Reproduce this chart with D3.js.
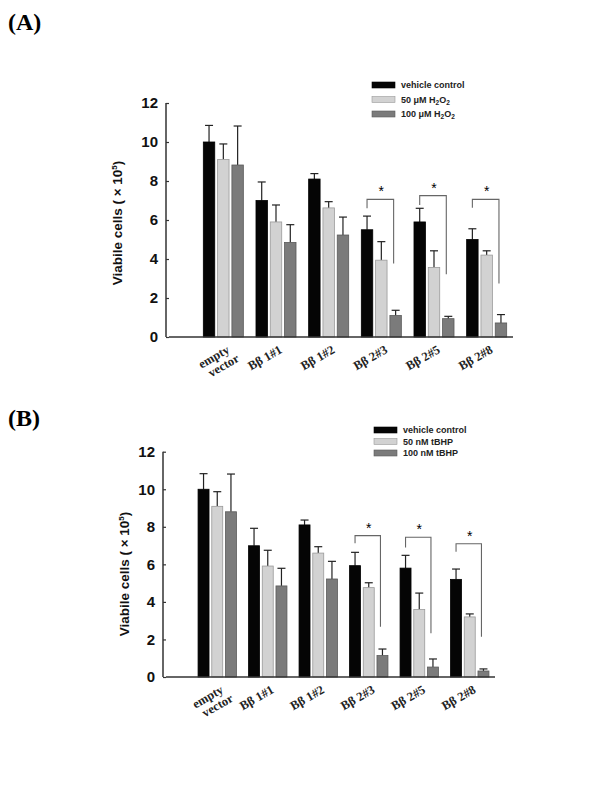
<!DOCTYPE html>
<html>
<head>
<meta charset="utf-8">
<script src="https://cdn.jsdelivr.net/npm/d3@7"></script>
<style>
  body { margin: 0; background: #fff; }
  svg { display: block; }
  .tick text { font-family: "Liberation Sans", Arial, sans-serif; font-weight: bold; }
</style>
</head>
<body>
<div id="chart"></div>
<script>
// --- data ---
const groups = ["empty vector", "Bβ 1#1", "Bβ 1#2", "Bβ 2#3", "Bβ 2#5", "Bβ 2#8"];
const series = ["vehicle", "mid", "high"];
const yTicks = [0, 2, 4, 6, 8, 10, 12];

// panel A : H2O2
const aVehicle = [10.0, 7.0, 8.1, 5.5, 5.9, 5.0];
const aVehicleErr = [10.85, 7.95, 8.38, 6.2, 6.6, 5.55];
const a50 = [9.1, 5.9, 6.62, 3.94, 3.57, 4.2];
const a50Err = [9.9, 6.77, 6.94, 4.89, 4.42, 4.42];
const a100 = [8.82, 4.85, 5.23, 1.1, 0.94, 0.72];
const a100Err = [10.82, 5.76, 6.15, 1.37, 1.06, 1.15];
// brackets: group index, top, left end, right end
const aBrackets = [[3, 7.06, 6.6, 3.77], [4, 7.25, 6.77, 3.22], [5, 7.06, 6.63, 2.74]];

// panel B : tBHP
const bVehicle = [10.0, 6.99, 8.1, 5.93, 5.8, 5.2];
const bVehicleErr = [10.83, 7.92, 8.36, 6.64, 6.48, 5.75];
const b50 = [9.09, 5.91, 6.6, 4.76, 3.59, 3.2];
const b50Err = [9.87, 6.75, 6.94, 5.02, 4.47, 3.36];
const b100 = [8.8, 4.85, 5.22, 1.14, 0.53, 0.32];
const b100Err = [10.81, 5.79, 6.16, 1.49, 0.96, 0.43];
const bBrackets = [[3, 7.53, 7.12, 2.68], [4, 7.44, 6.9, 2.33], [5, 7.1, 6.67, 2.15]];

const fills = { vehicle: "#050505", mid: "#d2d2d2", high: "#7b7b7b" };
const strokes = { vehicle: "#000", mid: "#9a9a9a", high: "#5a5a5a" };

const svg = d3.select("#chart").append("svg")
    .attr("width", 600).attr("height", 800);

function drawPanel(p) {
    const g = svg.append("g");
    const y = d3.scaleLinear().domain([0, 12]).range([p.y0, p.y12]);
    const x0 = d3.scaleBand().domain(groups).range(p.xRange)
        .paddingInner(0.24).paddingOuter(0.12);
    const x1 = d3.scaleBand().domain(series).range([0, x0.bandwidth()]).paddingInner(0.2);

    // panel letter
    g.append("text")
        .attr("x", 8).attr("y", p.labelY)
        .style("font-family", "'Liberation Serif', 'Times New Roman', serif")
        .style("font-weight", "bold").style("font-size", "24px")
        .text(p.letter);

    // bars
    const rows = groups.map((name, i) => ({
        name,
        vals: series.map((s, k) => ({ s, v: p.values[k][i], e: p.errs[k][i] }))
    }));
    const grp = g.selectAll(".grp").data(rows).join("g")
        .attr("transform", d => `translate(${x0(d.name)},0)`);

    grp.selectAll("line.err").data(d => d.vals).join("line")
        .attr("class", "err")
        .attr("x1", d => x1(d.s) + x1.bandwidth() / 2)
        .attr("x2", d => x1(d.s) + x1.bandwidth() / 2)
        .attr("y1", d => y(d.v)).attr("y2", d => y(d.e))
        .attr("stroke", "#222").attr("stroke-width", 1.2);
    grp.selectAll("line.cap").data(d => d.vals).join("line")
        .attr("class", "cap")
        .attr("x1", d => x1(d.s) + x1.bandwidth() / 2 - 4)
        .attr("x2", d => x1(d.s) + x1.bandwidth() / 2 + 4)
        .attr("y1", d => y(d.e)).attr("y2", d => y(d.e))
        .attr("stroke", "#222").attr("stroke-width", 1.2);

    grp.selectAll("rect").data(d => d.vals).join("rect")
        .attr("x", d => x1(d.s))
        .attr("y", d => y(d.v))
        .attr("width", x1.bandwidth())
        .attr("height", d => y(0) - y(d.v))
        .attr("fill", d => fills[d.s])
        .attr("stroke", d => strokes[d.s]).attr("stroke-width", 0.8);

    // y axis
    const yAxis = g.append("g")
        .attr("transform", `translate(${p.axisX},0)`)
        .call(d3.axisLeft(y).tickValues(yTicks).tickSize(3).tickPadding(8));
    yAxis.select(".domain").attr("stroke", "#333").attr("stroke-width", 1.5)
        .attr("d", `M-3,${y(0)}V${y(12)}`);
    yAxis.selectAll(".tick line").attr("stroke", "#333").attr("stroke-width", 1.2);
    yAxis.selectAll(".tick text").style("font-size", "15px").attr("fill", "#111");

    // x axis line
    g.append("line")
        .attr("x1", p.axisX).attr("x2", x0.range()[1])
        .attr("y1", y(0)).attr("y2", y(0))
        .attr("stroke", "#333").attr("stroke-width", 1.5);

    // x labels (rotated serif)
    const xl = g.selectAll(".xl").data(groups).join("text")
        .attr("transform", d => `translate(${x0(d) + x0.bandwidth() / 2 + 7},${y(0) + 15}) rotate(-30)`)
        .attr("text-anchor", "end")
        .style("font-family", "'Liberation Serif', 'Times New Roman', serif")
        .style("font-weight", "bold").style("font-size", "12.5px")
        .attr("fill", "#222");
    xl.each(function (d) {
        const parts = d === "empty vector" ? ["empty", "vector"] : [d];
        d3.select(this).selectAll("tspan").data(parts).join("tspan")
            .attr("x", (t, k) => k * 4).attr("dy", (t, k) => k ? "1.0em" : 0)
            .text(t => t);
    });

    // y label
    const yl = g.append("text")
        .attr("transform", `translate(${p.yLabelX},${p.yLabelY}) rotate(-90)`)
        .attr("text-anchor", "middle")
        .style("font-family", "'Liberation Sans', Arial, sans-serif")
        .style("font-weight", "bold").style("font-size", "13.5px")
        .attr("fill", "#111");
    yl.append("tspan").text("Viabile cells ( × 10");
    yl.append("tspan").attr("dy", -5).style("font-size", "8px").text("5");
    yl.append("tspan").attr("dy", 5).text(")");

    // significance brackets
    const cx = (gi, s) => x0(groups[gi]) + x1(s) + x1.bandwidth() / 2;
    g.selectAll(".br").data(p.brackets).join("path")
        .attr("d", b => `M${cx(b[0], "vehicle")},${y(b[2])}V${y(b[1])}H${cx(b[0], "high") - 2}V${y(b[3])}`)
        .attr("fill", "none").attr("stroke", "#666").attr("stroke-width", 1.1);
    g.selectAll(".star").data(p.brackets).join("text")
        .attr("x", b => (cx(b[0], "vehicle") + cx(b[0], "high")) / 2)
        .attr("y", b => y(b[1]) - 3)
        .attr("text-anchor", "middle")
        .attr("fill", "#000")
        .style("font-family", "'Liberation Sans', Arial, sans-serif")
        .style("font-size", "14px")
        .text("*");

    // legend
    const lg = g.append("g").attr("transform", `translate(${p.legend[0]},${p.legend[1]})`);
    const li = lg.selectAll("g").data(series).join("g")
        .attr("transform", (d, i) => `translate(0,${i * p.legendStep})`);
    li.append("rect").attr("x", 0).attr("y", -3).attr("width", 23).attr("height", 6)
        .attr("fill", d => fills[d]).attr("stroke", d => strokes[d]).attr("stroke-width", 0.6);
    const lt = li.append("text").attr("x", 29).attr("y", 3)
        .style("font-family", "'Liberation Sans', Arial, sans-serif")
        .style("font-weight", "bold").style("font-size", "9px")
        .attr("fill", "#222");
    lt.each(function (d, i) {
        const t = d3.select(this);
        const parts = p.legendText[i];
        parts.forEach(part => {
            if (part.sub) t.append("tspan").attr("dy", 2).style("font-size", "6.5px").text(part.t);
            else t.append("tspan").attr("dy", part.up ? -2 : 0).text(part.t);
        });
    });
}

drawPanel({
    letter: "(A)", labelY: 30,
    y0: 337, y12: 103, xRange: [197, 513], axisX: 169,
    yLabelX: 122, yLabelY: 223,
    values: [aVehicle, a50, a100], errs: [aVehicleErr, a50Err, a100Err],
    brackets: aBrackets,
    legend: [372, 85], legendStep: 14.5,
    legendText: [
        [{ t: "vehicle control" }],
        [{ t: "50 μM H" }, { t: "2", sub: true }, { t: "O", up: true }, { t: "2", sub: true }],
        [{ t: "100 μM H" }, { t: "2", sub: true }, { t: "O", up: true }, { t: "2", sub: true }]
    ]
});

drawPanel({
    letter: "(B)", labelY: 426,
    y0: 677, y12: 451.7, xRange: [192, 495], axisX: 166,
    yLabelX: 129, yLabelY: 574,
    values: [bVehicle, b50, b100], errs: [bVehicleErr, b50Err, b100Err],
    brackets: bBrackets,
    legend: [374, 430], legendStep: 11.5,
    legendText: [
        [{ t: "vehicle control" }],
        [{ t: " 50 nM tBHP" }],
        [{ t: "100 nM tBHP" }]
    ]
});
</script>
</body>
</html>
